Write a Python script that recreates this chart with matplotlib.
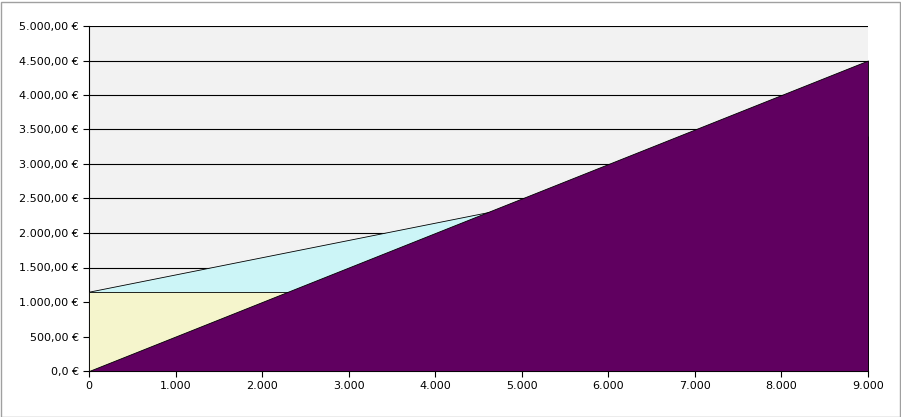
import matplotlib
matplotlib.use("Agg")
import matplotlib.pyplot as plt
from matplotlib.ticker import FuncFormatter

quantity = [0, 1000, 2000, 3000, 4000, 5000, 6000, 7000, 8000, 9000]
fixed_costs = [1150]*10
total_costs = [1150, 1400, 1650, 1900, 2150, 2400, 2650, 2900, 3150, 3400]
revenue = [0, 500, 1000, 1500, 2000, 2500, 3000, 3500, 4000, 4500]

fig = plt.figure(figsize=(9.01, 4.17), dpi=100)
fig.patch.set_facecolor("white")
ax = fig.add_axes([89/901, 1-371/417, (868-89)/901, (371-26)/417])
ax.set_facecolor("#F2F2F2")
for y in range(500, 5001, 500):
    ax.axhline(y, color="black", lw=0.8, zorder=1)
ax.fill_between(quantity, 0, total_costs, color="#CCF5F7", edgecolor="black", lw=0.6, zorder=2)
ax.fill_between(quantity, 0, fixed_costs, color="#F5F5CC", edgecolor="black", lw=0.6, zorder=3)
ax.fill_between(quantity, 0, revenue, color="#600060", edgecolor="black", lw=0.6, zorder=4)
ax.set_xlim(0, 9000)
ax.set_ylim(0, 5000)
ax.set_xticks(range(0, 9001, 1000))
ax.set_yticks(range(0, 5001, 500))
ax.xaxis.set_major_formatter(FuncFormatter(lambda v, p: f"{int(v):,}".replace(",", ".")))
ax.yaxis.set_major_formatter(FuncFormatter(lambda v, p: f"{int(v):,}".replace(",", ".") + ",00 €" if v else "0,0 €"))
ax.tick_params(labelsize=8, length=4, direction="out")
for s in ["top", "right"]:
    ax.spines[s].set_visible(False)
fig.add_artist(plt.Rectangle((0.5/901, 0.5/417), 899/901, 415/417, transform=fig.transFigure, fill=False, ec="#A0A0A0", lw=1))
fig.savefig("out.png", dpi=100)
